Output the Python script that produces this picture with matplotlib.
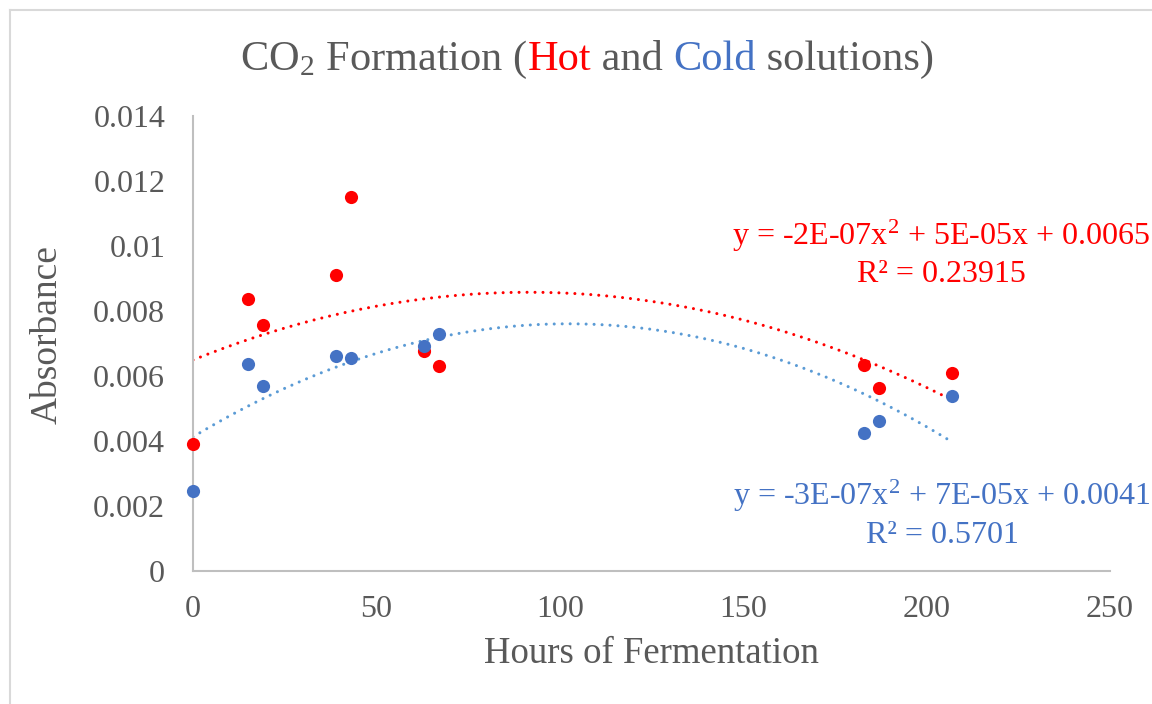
import numpy as np
import matplotlib.pyplot as plt
from matplotlib.lines import Line2D

plt.rcParams['font.family'] = ['Liberation Serif', 'DejaVu Serif']
plt.rcParams['mathtext.fontset'] = 'custom'
plt.rcParams['mathtext.rm'] = 'Liberation Serif'
plt.rcParams['mathtext.it'] = 'Liberation Serif:italic'

# data
hours = [0, 15, 19, 39, 43, 63, 67, 183, 187, 207]
hot = [0.00390, 0.00838, 0.00756, 0.00912, 0.01150, 0.00678, 0.00632, 0.00634, 0.00562, 0.00610]
cold = [0.00246, 0.00636, 0.00569, 0.00662, 0.00654, 0.00693, 0.00729, 0.00424, 0.00462, 0.00538]

hot_eq = "y = -2E-07x$^\\mathrm{2}$ + 5E-05x + 0.0065"
hot_r2 = "R² = 0.23915"
cold_eq = "y = -3E-07x$^\\mathrm{2}$ + 7E-05x + 0.0041"
cold_r2 = "R² = 0.5701"

y_ticks = [0, 0.002, 0.004, 0.006, 0.008, 0.01, 0.012, 0.014]
y_labels = ["0", "0.002", "0.004", "0.006", "0.008", "0.01", "0.012", "0.014"]
x_ticks = [0, 50, 100, 150, 200, 250]

RED = "#FF0000"
BLUE = "#4472C4"
BLUE_LINE = "#5B9BD5"
GRAY = "#595959"

fig = plt.figure(figsize=(11.52, 7.04), dpi=100)
ax = fig.add_axes([193 / 1152, 1 - 571 / 704, (1110 - 193) / 1152, (571 - 116) / 704])

# chart area border
fig.add_artist(Line2D([10 / 1152, 10 / 1152], [0, 1 - 10 / 704], color="#D9D9D9", lw=1.5))
fig.add_artist(Line2D([10 / 1152, 1], [1 - 10 / 704, 1 - 10 / 704], color="#D9D9D9", lw=1.5))

# polynomial trendlines (order 2), like Excel
xs = np.linspace(0, max(hours), 200)
for vals, col in [(hot, RED), (cold, BLUE_LINE)]:
    c = np.polyfit(hours, vals, 2)
    ax.plot(xs, np.polyval(c, xs), color=col, lw=2.2, linestyle=(0, (0.01, 2.6)),
            dash_capstyle="round", zorder=2)

ax.scatter(hours, hot, s=90, color=RED, zorder=3, clip_on=False, linewidths=0)
ax.scatter(hours, cold, s=90, color=BLUE, zorder=4, clip_on=False, linewidths=0)

ax.set_xlim(0, 250)
ax.set_ylim(0, 0.014)
ax.set_xticks(x_ticks)
ax.set_yticks(y_ticks)
ax.set_yticklabels(y_labels)
ax.tick_params(length=0, labelsize=23, colors=GRAY)
ax.tick_params(axis="y", pad=20)
ax.tick_params(axis="x", pad=17)
for s in ["top", "right"]:
    ax.spines[s].set_visible(False)
for s in ["left", "bottom"]:
    ax.spines[s].set_color("#BFBFBF")
    ax.spines[s].set_linewidth(1.5)

ax.set_xlabel("Hours of Fermentation", fontsize=26.5, color=GRAY, labelpad=9)
ax.set_ylabel("Absorbance", fontsize=27, color=GRAY)
ax.yaxis.set_label_coords(-0.14, 0.52)

# trendline labels
fig.text(941 / 1152, 1 - 245 / 704, hot_eq, color=RED, fontsize=23, ha="center", va="baseline")
fig.text(941 / 1152, 1 - 282 / 704, hot_r2, color=RED, fontsize=23, ha="center", va="baseline")
fig.text(942 / 1152, 1 - 505 / 704, cold_eq, color=BLUE, fontsize=23, ha="center", va="baseline")
fig.text(942 / 1152, 1 - 543 / 704, cold_r2, color=BLUE, fontsize=23, ha="center", va="baseline")

# multi-coloured title
parts = [("CO$_\\mathrm{2}$ Formation (", GRAY), ("Hot", RED), (" and ", GRAY),
         ("Cold", BLUE), (" solutions)", GRAY)]
fig.canvas.draw()
r = fig.canvas.get_renderer()
texts = []
total = 0
for s, col in parts:
    t = fig.text(0, 1 - 70 / 704, s, color=col, fontsize=30.5, ha="left", va="baseline")
    w = t.get_window_extent(r).width
    texts.append((t, w))
    total += w
x = 587 - total / 2
for t, w in texts:
    t.set_x(x / 1152)
    x += w

fig.savefig("out.png", dpi=100)
